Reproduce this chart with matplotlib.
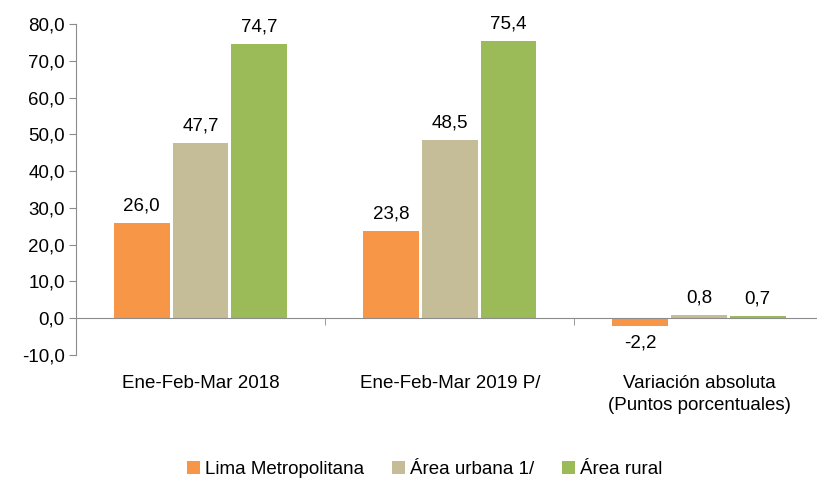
import matplotlib.pyplot as plt
import numpy as np

plt.rcParams['font.family'] = ['Liberation Sans', 'DejaVu Sans']

categories = ['Ene-Feb-Mar 2018', 'Ene-Feb-Mar 2019 P/', 'Variación absoluta\n(Puntos porcentuales)']
series = ['Lima Metropolitana', 'Área urbana 1/', 'Área rural']
lima = [26.0, 23.8, -2.2]
urbana = [47.7, 48.5, 0.8]
rural = [74.7, 75.4, 0.7]
colors = ['#F79646', '#C4BD97', '#9BBB59']

fs = 13.5

fig = plt.figure(figsize=(8.17, 4.82), dpi=100)
ax = fig.add_axes([0.093, 0.2635, 0.915, 0.6865])

x = np.arange(len(categories))
step = 0.236
width = 0.224
for i, (vals, name) in enumerate(zip([lima, urbana, rural], series)):
    pos = x + (i - 1) * step
    ax.bar(pos, vals, width, color=colors[i], label=name, zorder=2)
    for px, v in zip(pos, vals):
        lbl = f'{v:.1f}'.replace('.', ',')
        if v >= 0:
            ax.annotate(lbl, (px, v), xytext=(0, 6), textcoords='offset points',
                        ha='center', va='bottom', fontsize=fs)
        else:
            ax.annotate(lbl, (px, v), xytext=(0, -6), textcoords='offset points',
                        ha='center', va='top', fontsize=fs)

ax.set_xlim(-0.5, 2.5)
ax.set_ylim(-10, 80)
ax.set_yticks(np.arange(-10, 81, 10))
ax.set_yticklabels([f'{t:.1f}'.replace('.', ',') for t in np.arange(-10, 81, 10)], fontsize=fs)

ax.spines['top'].set_visible(False)
ax.spines['right'].set_visible(False)
ax.spines['left'].set_color('#8c8c8c')
ax.spines['bottom'].set_color('#8c8c8c')
ax.spines['bottom'].set_position(('data', 0))
ax.spines['bottom'].set_zorder(3)

ax.set_xticks(x)
ax.set_xticklabels(categories, fontsize=fs, linespacing=1.4)
ax.set_xticks([0.5, 1.5], minor=True)
ax.tick_params(axis='x', which='major', length=0, pad=41)
ax.tick_params(axis='x', which='minor', length=5, color='#8c8c8c', direction='out')
ax.tick_params(axis='y', length=5, color='#8c8c8c', pad=3)

fig.legend(loc='lower center', ncol=3, frameon=False, fontsize=fs,
           bbox_to_anchor=(0.52, -0.027), handlelength=0.7, handleheight=0.7,
           handletextpad=0.25, columnspacing=1.5)

fig.savefig('out.png', dpi=100)
